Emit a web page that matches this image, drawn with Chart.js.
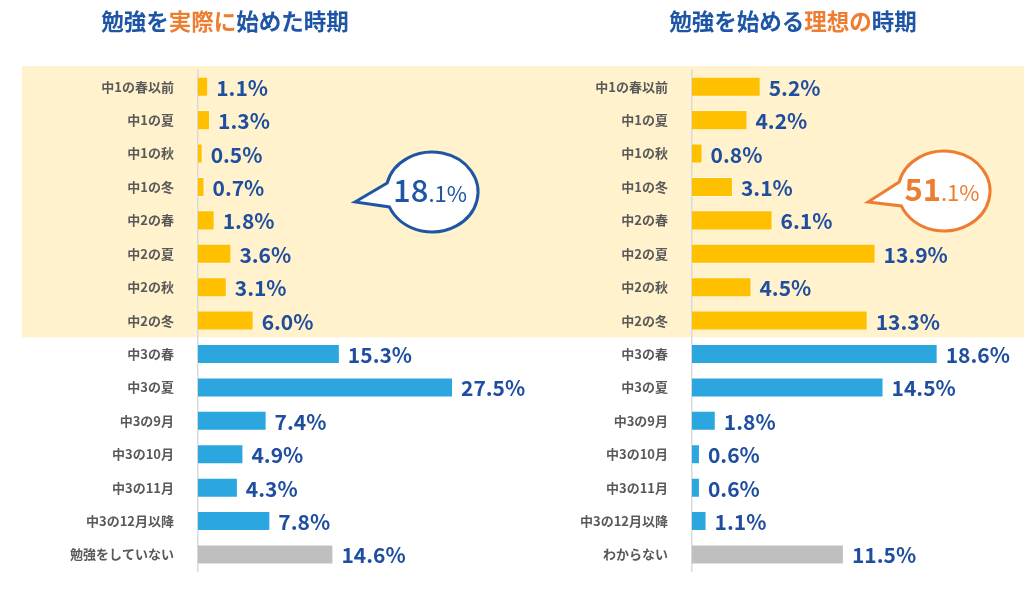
<!DOCTYPE html>
<html>
<head>
<meta charset="utf-8">
<script src="https://cdn.jsdelivr.net/npm/chart.js@4"></script>
<style>
  body { margin: 0; background: #fff; width: 1024px; height: 595px; overflow: hidden; position: relative; font-family: "Noto Sans CJK JP", sans-serif; }
  canvas { position: absolute; top: 0; }
  #leftChart { left: 0; z-index: 1; }
  #rightChart { left: 512px; z-index: 0; }
  .title { position: absolute; top: 0; height: 40px; line-height: 40px; font-size: 22.5px; font-weight: bold; color: #1f55a5; text-align: center; width: 400px; z-index: 2; }
  .title span { color: #ed7d31; }
</style>
</head>
<body>
<div class="title" style="left:25px">勉強を<span>実際に</span>始めた時期</div>
<div class="title" style="left:593px">勉強を始める<span>理想の</span>時期</div>
<canvas id="leftChart" width="560" height="595"></canvas>
<canvas id="rightChart" width="512" height="595"></canvas>
<script>
// データ
const leftLabels = ['中1の春以前', '中1の夏', '中1の秋', '中1の冬', '中2の春', '中2の夏', '中2の秋', '中2の冬',
    '中3の春', '中3の夏', '中3の9月', '中3の10月', '中3の11月', '中3の12月以降', '勉強をしていない'];
const leftValues = [1.1, 1.3, 0.5, 0.7, 1.8, 3.6, 3.1, 6.0, 15.3, 27.5, 7.4, 4.9, 4.3, 7.8, 14.6];
const leftTotal = ['18', '.1%'];

const rightLabels = ['中1の春以前', '中1の夏', '中1の秋', '中1の冬', '中2の春', '中2の夏', '中2の秋', '中2の冬',
    '中3の春', '中3の夏', '中3の9月', '中3の10月', '中3の11月', '中3の12月以降', 'わからない'];
const rightValues = [5.2, 4.2, 0.8, 3.1, 6.1, 13.9, 4.5, 13.3, 18.6, 14.5, 1.8, 0.6, 0.6, 1.1, 11.5];
const rightTotal = ['51', '.1%'];

const FONT = '"Noto Sans CJK JP", sans-serif';

function barColors(n) {
    const c = [];
    for (let i = 0; i < n; i++) {
        if (i < 8) c.push('#ffc000');
        else if (i < n - 1) c.push('#2ca6df');
        else c.push('#bfbfbf');
    }
    return c;
}

// 背景の帯（中1〜中2）
const bandPlugin = {
    id: 'band',
    beforeDraw(chart, args, opts) {
        const ctx = chart.ctx;
        const y = chart.scales.y;
        const top = chart.chartArea.top - 4;
        const bottom = (y.getPixelForValue(7) + y.getPixelForValue(8)) / 2;
        ctx.save();
        ctx.fillStyle = '#fff2cc';
        ctx.fillRect(opts.left, top, chart.width - opts.left, bottom - top);
        ctx.restore();
    }
};

// 数値ラベル
const valuePlugin = {
    id: 'values',
    afterDatasetsDraw(chart) {
        const ctx = chart.ctx;
        const meta = chart.getDatasetMeta(0);
        const data = chart.data.datasets[0].data;
        ctx.save();
        ctx.font = 'bold 21px ' + FONT;
        ctx.fillStyle = '#1f4e9f';
        ctx.textBaseline = 'middle';
        ctx.textAlign = 'left';
        meta.data.forEach((bar, i) => {
            ctx.fillText(data[i].toFixed(1) + '%', bar.x + 8, bar.y + 1);
        });
        ctx.restore();
    }
};

// 吹き出し
const calloutPlugin = {
    id: 'callout',
    afterDraw(chart, args, o) {
        const ctx = chart.ctx;
        const cx = o.cx, cy = o.cy, rx = 46, ry = 40;
        const a1 = 193 * Math.PI / 180, a2 = (360 + 158) * Math.PI / 180;
        ctx.save();
        ctx.beginPath();
        ctx.moveTo(o.tipX, o.tipY);
        ctx.lineTo(cx + rx * Math.cos(a1), cy + ry * Math.sin(a1));
        ctx.ellipse(cx, cy, rx, ry, 0, a1, a2, false);
        ctx.closePath();
        ctx.fillStyle = '#fff';
        ctx.fill();
        ctx.lineWidth = 3;
        ctx.strokeStyle = o.color;
        ctx.lineJoin = 'miter';
        ctx.stroke();

        const bigFont = o.bold + ' 31px ' + FONT;
        const smallFont = 'normal 22px ' + FONT;
        ctx.font = bigFont;
        const w1 = ctx.measureText(o.text[0]).width;
        ctx.font = smallFont;
        const w2 = ctx.measureText(o.text[1]).width;
        let x = cx - (w1 + w2) / 2 - 2;
        ctx.fillStyle = o.color;
        ctx.textBaseline = 'alphabetic';
        ctx.textAlign = 'left';
        ctx.font = bigFont;
        ctx.fillText(o.text[0], x, cy + 10);
        ctx.font = smallFont;
        ctx.fillText(o.text[1], x + w1, cy + 10);
        ctx.restore();
    }
};

function makeChart(id, labels, values, axisLeft, xMax, padRight, bandLeft, callout) {
    return new Chart(document.getElementById(id), {
        type: 'bar',
        data: {
            labels: labels,
            datasets: [{
                data: values,
                backgroundColor: barColors(values.length),
                borderColor: 'rgba(255,255,255,0.5)',
                borderWidth: 1,
                categoryPercentage: 1,
                barPercentage: 0.6
            }]
        },
        options: {
            indexAxis: 'y',
            responsive: false,
            animation: false,
            layout: { padding: { top: 70, bottom: 15, left: 0, right: padRight } },
            plugins: {
                legend: { display: false },
                tooltip: { enabled: false },
                band: { left: bandLeft },
                callout: callout
            },
            scales: {
                x: { display: false, min: 0, max: xMax },
                y: {
                    grid: { display: false },
                    border: { display: true, color: '#d9d9d9', width: 1.5 },
                    ticks: {
                        color: '#595959',
                        font: { family: FONT, size: 13, weight: 'bold' },
                        padding: 16
                    },
                    afterFit(scale) { scale.width = axisLeft; }
                }
            }
        },
        plugins: [bandPlugin, valuePlugin, calloutPlugin]
    });
}

makeChart('leftChart', leftLabels, leftValues, 198, 33, 56, 22,
    { cx: 432, cy: 192, tipX: 355, tipY: 202, color: '#1f55a5', text: leftTotal, bold: '500' });
makeChart('rightChart', rightLabels, rightValues, 180, 24, 15, 0,
    { cx: 432, cy: 191, tipX: 356, tipY: 202, color: '#ed7d31', text: rightTotal, bold: 'bold' });
</script>
</body>
</html>
